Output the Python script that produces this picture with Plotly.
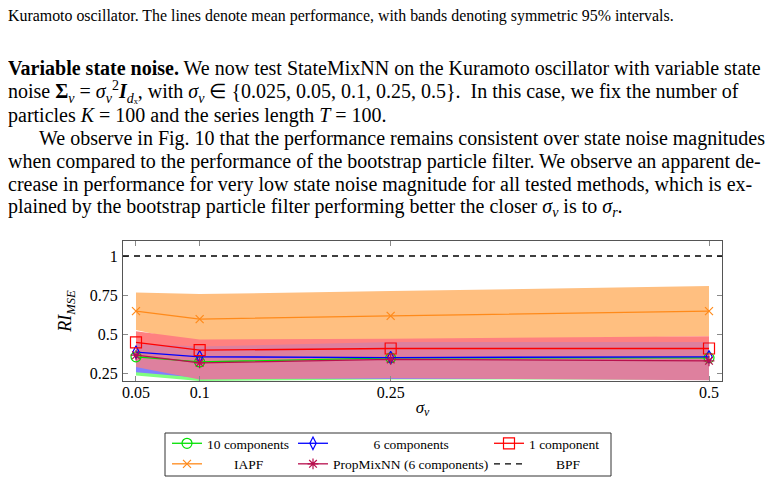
import plotly.graph_objects as go

# state noise levels on the x axis
sigma_v = [0.05, 0.1, 0.25, 0.5]
tick_text = ["0.05", "0.1", "0.25", "0.5"]
y_ticks = [0.25, 0.5, 0.75, 1.0]
y_tick_text = ["0.25", "0.5", "0.75", "1"]

# StateMixNN, 10 components
mix10_mean = [0.355, 0.322, 0.348, 0.348]
mix10_lo = [0.235, 0.200, 0.210, 0.210]
mix10_hi = [0.470, 0.430, 0.440, 0.440]

# StateMixNN, 6 components
mix6_mean = [0.385, 0.355, 0.350, 0.355]
mix6_lo = [0.256, 0.220, 0.212, 0.215]
mix6_hi = [0.510, 0.440, 0.445, 0.445]

# StateMixNN, 1 component
mix1_mean = [0.447, 0.397, 0.408, 0.408]
mix1_lo = [0.375, 0.334, 0.346, 0.329]
mix1_hi = [0.519, 0.465, 0.470, 0.487]

# IAPF
iapf_mean = [0.647, 0.596, 0.617, 0.647]
iapf_lo = [0.527, 0.436, 0.458, 0.486]
iapf_hi = [0.767, 0.756, 0.776, 0.808]

# PropMixNN (6 components)
prop_mean = [0.365, 0.316, 0.338, 0.329]
prop_lo = [0.290, 0.210, 0.218, 0.205]
prop_hi = [0.440, 0.420, 0.450, 0.450]

# BPF reference level (RI_MSE is relative to the BPF)
bpf_level = 1.0

# the page body has an 8px margin, so the figure is 8px smaller
W, H = 774, 476
L, R, T, B = 115, 60, 233, 103
PW, PH = W - L - R, H - T - B


# helpers taking positions measured on the 782x484 page
def px(x):
    return (x - 123) / PW


def py(y):
    return (381 - y) / PH


fig = go.Figure()


def add_band(lo, hi, color):
    fig.add_trace(go.Scatter(
        x=sigma_v + sigma_v[::-1],
        y=hi + lo[::-1],
        mode="lines",
        fill="toself",
        fillcolor=color,
        line=dict(width=0),
        hoverinfo="skip",
        showlegend=False,
    ))


add_band(iapf_lo, iapf_hi, "#FFBF80")
add_band(mix10_lo, mix10_hi, "#80FF80")
add_band(mix6_lo, mix6_hi, "#8080FF")
add_band(mix1_lo, mix1_hi, "#FF8080")
add_band(prop_lo, prop_hi, "#DE809E")

NB = "\u00a0"


def add_line(mean, name, color, symbol, size, legend):
    fig.add_trace(go.Scatter(
        x=sigma_v,
        y=mean,
        mode="lines+markers",
        name=name,
        legend=legend,
        line=dict(color=color, width=1.3),
        marker=dict(symbol=symbol, size=size, color=color,
                    line=dict(color=color, width=1.2)),
    ))


add_line(mix10_mean, "10 components", "#00E000", "circle-open", 10, "legend")
add_line(mix6_mean, NB * 12 + "6 components", "#0000FF", "diamond-tall-open", 9, "legend2")
add_line(mix1_mean, "1 component", "#FF0000", "square-open", 11, "legend3")
add_line(iapf_mean, NB * 8 + "IAPF", "#FF8A1A", "x-thin-open", 8, "legend")
add_line(prop_mean, "PropMixNN (6 components)", "#B8104E", "asterisk-open", 9, "legend2")

fig.add_hline(
    y=bpf_level,
    line=dict(color="black", width=1.3, dash="6px,5px"),
    showlegend=True,
    name=NB * 8 + "BPF",
    legend="legend3",
)

leg = dict(xanchor="left", yanchor="top", y=py(428), bgcolor="rgba(0,0,0,0)",
           borderwidth=0, font=dict(size=13.5, color="black"), itemwidth=30,
           orientation="v", tracegroupgap=0)

fig.update_layout(
    width=W, height=H,
    margin=dict(l=L, r=R, t=T, b=B, autoexpand=False),
    paper_bgcolor="white",
    plot_bgcolor="white",
    font=dict(family="Liberation Serif", size=16, color="black"),
    legend=dict(leg, x=px(167)),
    legend2=dict(leg, x=px(293)),
    legend3=dict(leg, x=px(489)),
    xaxis=dict(
        range=[0.0398, 0.5102],
        tickvals=sigma_v, ticktext=tick_text,
        ticks="inside", ticklen=5, tickcolor="#8a8a8a",
        showline=True, linecolor="#555555", linewidth=1, mirror="ticks",
        showgrid=False, zeroline=False, ticklabelstandoff=-3,
        title=dict(text="<i>σ<sub>v</sub></i>", standoff=0, font=dict(size=17)),
    ),
    yaxis=dict(
        range=[0.2, 1.096],
        tickvals=y_ticks, ticktext=y_tick_text,
        ticks="inside", ticklen=5, tickcolor="#8a8a8a",
        showline=True, linecolor="#555555", linewidth=1, mirror="ticks",
        showgrid=False, zeroline=False, ticklabelstandoff=1,
        title=dict(text="<i>RI<sub>MSE</sub></i>", standoff=13, font=dict(size=18)),
    ),
)

# legend frame
fig.add_shape(type="rect", xref="paper", yref="paper",
              x0=px(165), x1=px(611), y0=py(476), y1=py(433),
              line=dict(color="#333333", width=1))

# surrounding page text
caption = ("Kuramoto oscillator. The lines denote mean performance, "
           "with bands denoting symmetric 95% intervals.")
body = [
    (6, 68, "<b>Variable state noise.</b> We now test StateMixNN on the Kuramoto "
            "oscillator with variable state"),
    (6, 92, "noise <b>Σ</b><sub><i>v</i></sub> = <i>σ</i><sub><i>v</i></sub><sup>2</sup>"
            "<b><i>I</i></b><sub><i>d</i>ₓ</sub>, with <i>σ</i><sub><i>v</i></sub> ∈ "
            "{0.025, 0.05, 0.1, 0.25, 0.5}.  In this case, we fix the number of"),
    (6, 115, "particles <i>K</i> = 100 and the series length <i>T</i> = 100."),
    (37, 138, "We observe in Fig. 10 that the performance remains consistent over "
              "state noise magnitudes"),
    (6, 161, "when compared to the performance of the bootstrap particle filter. "
             "We observe an apparent de-"),
    (6, 184, "crease in performance for very low state noise magnitude for all "
             "tested methods, which is ex-"),
    (6, 207, "plained by the bootstrap particle filter performing better the closer "
             "<i>σ</i><sub><i>v</i></sub> is to <i>σ</i><sub><i>r</i></sub>."),
]

fig.add_annotation(text=caption, xref="paper", yref="paper", x=px(6), y=py(16),
                   xanchor="left", yanchor="middle", showarrow=False,
                   font=dict(size=15.9))
for x0, y0, line in body:
    fig.add_annotation(text=line, xref="paper", yref="paper", x=px(x0), y=py(y0),
                       xanchor="left", yanchor="middle", showarrow=False,
                       font=dict(size=20))

fig.write_html("out.html")
